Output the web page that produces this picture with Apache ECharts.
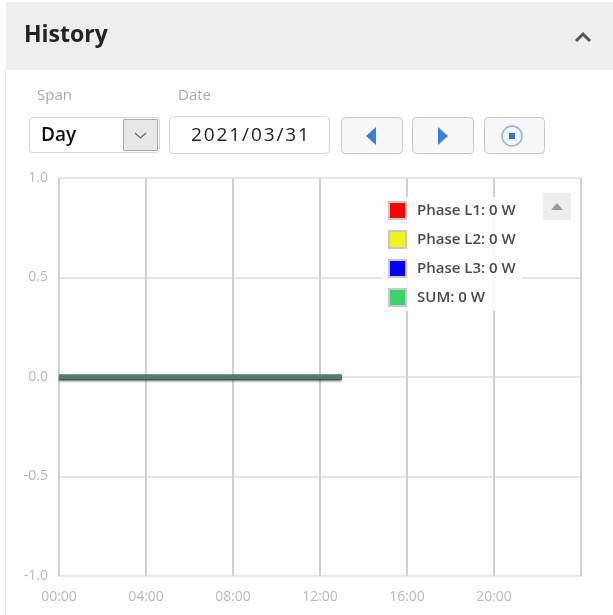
<!DOCTYPE html>
<html>
<head>
<meta charset="utf-8">
<script src="https://cdn.jsdelivr.net/npm/echarts@6/dist/echarts.min.js"></script>
<style>
html,body{margin:0;padding:0;background:#fff;}
#chart{width:613px;height:615px;}
</style>
</head>
<body>
<div id="chart"></div>
<script>
// ---- data ----
var hours = [0, 1, 2, 3, 4, 5, 6, 7, 8, 9, 10, 11, 12, 13];
var phaseL1 = [0, 0, 0, 0, 0, 0, 0, 0, 0, 0, 0, 0, 0, 0];
var phaseL2 = [0, 0, 0, 0, 0, 0, 0, 0, 0, 0, 0, 0, 0, 0];
var phaseL3 = [0, 0, 0, 0, 0, 0, 0, 0, 0, 0, 0, 0, 0, 0];
var sumW    = [0, 0, 0, 0, 0, 0, 0, 0, 0, 0, 0, 0, 0, 0];
var seriesNames = ['Phase L1', 'Phase L2', 'Phase L3', 'SUM'];
var seriesColors = ['#ff0000', '#f2f21f', '#0000ff', '#3ecf6e'];
var currentValues = ['0 W', '0 W', '0 W', '0 W'];
var yTicks = [-1.0, -0.5, 0.0, 0.5, 1.0];
var xTickHours = [0, 4, 8, 12, 16, 20];
var title = 'History';
var spanLabel = 'Span', dateLabel = 'Date';
var spanValue = 'Day', dateValue = '2021/03/31';

function pairs(vals){ return hours.map(function(h,i){ return [h, vals[i]]; }); }
var allVals = [phaseL1, phaseL2, phaseL3, sumW];

var FONT = '"Open Sans", "Noto Sans", sans-serif';
var chart = echarts.init(document.getElementById('chart'), null, {renderer:'canvas'});

var series = allVals.map(function(v, i){
  var isSum = i === 3;
  return {
    name: seriesNames[i],
    type: 'line',
    data: pairs(v),
    showSymbol: false,
    symbol: 'none',
    itemStyle: {color: seriesColors[i]},
    lineStyle: isSum ? {width: 4.5, color: '#4e7d6e', shadowColor: 'rgba(0,0,0,0.55)', shadowOffsetY: 2, shadowBlur: 2}
                     : {width: 4.5, color: '#555'},
    z: 3 + i,
    animation: false
  };
});

function btn(x, y, w, h){
  return {type:'rect', shape:{x:x,y:y,width:w,height:h,r:4},
    style:{fill:'#f7f7f7', stroke:'#c8c8c8', lineWidth:1}};
}

var graphics = [
  // header band
  {type:'rect', shape:{x:6,y:2,width:607,height:68}, style:{fill:'#eeeeee'}},
  // left border of panel
  {type:'line', shape:{x1:5.5,y1:70,x2:5.5,y2:615}, style:{stroke:'#e6e6e6', lineWidth:1}},
  {type:'text', x:24, y:35, style:{text:title, font:'bold 23px ' + FONT, fill:'#222', verticalAlign:'middle'}},
  // caret
  {type:'polyline', shape:{points:[[576,41],[583,34],[590,41]]}, style:{stroke:'#555', lineWidth:3, fill:null}},
  // labels
  {type:'text', x:37, y:96, style:{text:spanLabel, font:'15px ' + FONT, fill:'#aaaaaa', verticalAlign:'middle'}},
  {type:'text', x:178, y:96, style:{text:dateLabel, font:'15px ' + FONT, fill:'#aaaaaa', verticalAlign:'middle'}},
  // select box
  {type:'rect', shape:{x:29.5,y:117.5,width:130,height:35,r:3}, style:{fill:'#fff', stroke:'#d6d6d6', lineWidth:1}},
  {type:'rect', shape:{x:123.5,y:119.5,width:34,height:31}, style:{fill:'#e8e8e8', stroke:'#aaaaaa', lineWidth:1}},
  {type:'polyline', shape:{points:[[135,133],[140.5,138],[146,133]]}, style:{stroke:'#666', lineWidth:1.2, fill:null}},
  {type:'text', x:41, y:136, style:{text:spanValue, font:'600 19px ' + FONT, fill:'#111', verticalAlign:'middle'}},
  // date box
  {type:'rect', shape:{x:169.5,y:116.5,width:160,height:37,r:4}, style:{fill:'#fff', stroke:'#d6d6d6', lineWidth:1}},
  {type:'text', x:250, y:136, style:{text:dateValue.split('').join('\u200A'), font:'19px ' + FONT, fill:'#222', align:'center', verticalAlign:'middle'}},
  // buttons
  btn(341.5,117.5,61,36), btn(412.5,117.5,61,36), btn(484.5,117.5,60,36),
  {type:'polygon', shape:{points:[[366,136],[376,127],[376,145]]}, style:{fill:'#3b7fd6'}},
  {type:'polygon', shape:{points:[[448,136],[438,127],[438,145]]}, style:{fill:'#3b7fd6'}},
  {type:'circle', shape:{cx:512,cy:136,r:10}, style:{fill:'#eef4fb', stroke:'#8fb4e0', lineWidth:1.5}},
  {type:'rect', shape:{x:509,y:133,width:6,height:6}, style:{fill:'#3b6fc0'}},
  // legend scroll button
  {type:'rect', shape:{x:543,y:193,width:28,height:27}, style:{fill:'#eeeeee'}, z:20},
  {type:'polygon', shape:{points:[[551,210],[557,203],[563,210]]}, style:{fill:'#9a9a9a'}, z:21}
];

var option = {
  backgroundColor: '#ffffff',
  animation: false,
  textStyle: {fontFamily: FONT},
  grid: {left: 59, top: 178, right: 32, bottom: 39, show: true, borderColor: '#cccccc', borderWidth: 1.5, backgroundColor: 'transparent'},
  xAxis: {
    type: 'value', min: 0, max: 24, interval: 4,
    axisLine: {show: false},
    axisTick: {show: false},
    splitLine: {show: true, lineStyle: {color: '#d0d0d0', width: 2}},
    axisLabel: {
      color: '#b8b8b8', fontSize: 14, margin: 14, fontFamily: FONT,
      showMaxLabel: false,
      formatter: function(v){ if (xTickHours.indexOf(v) < 0) return ''; return (v < 10 ? '0' + v : '' + v) + ':00'; }
    }
  },
  yAxis: {
    type: 'value', min: -1, max: 1, interval: 0.5,
    axisLine: {show: false},
    axisTick: {show: false},
    splitLine: {show: true, lineStyle: {color: '#e6e6e6', width: 2}},
    axisLabel: {
      color: '#b8b8b8', fontSize: 14, margin: 11, fontFamily: FONT,
      formatter: function(v){ return v.toFixed(1); }
    }
  },
  legend: {
    orient: 'vertical',
    left: 383, top: 197,
    padding: [4, 6, 4, 5],
    backgroundColor: 'rgba(255,255,255,0.85)',
    itemWidth: 17, itemHeight: 17, itemGap: 10,
    icon: 'rect',
    itemStyle: {borderColor: '#c8c8c8', borderWidth: 2},
    textStyle: {fontSize: 15, fontWeight: 600, color: '#4a4a4a', fontFamily: FONT, padding: [0,0,0,6]},
    selectedMode: false,
    data: seriesNames,
    formatter: function(name){ return name + ': ' + currentValues[seriesNames.indexOf(name)]; },
    z: 10
  },
  graphic: graphics,
  series: series
};
chart.setOption(option);
</script>
</body>
</html>
